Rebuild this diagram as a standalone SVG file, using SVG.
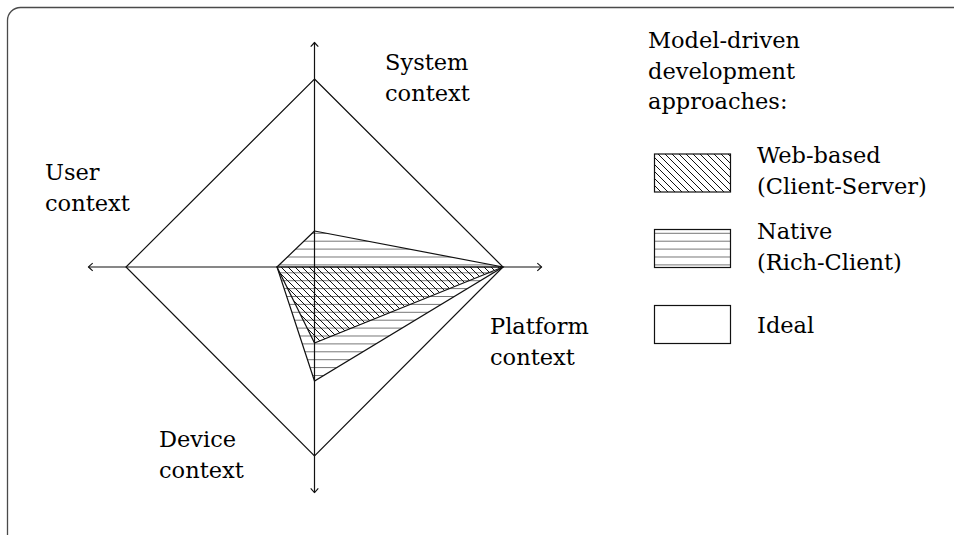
<svg xmlns="http://www.w3.org/2000/svg" width="954" height="535" viewBox="0 0 954 535">
  <style>
    .frame { fill: none; stroke: #4a4a4a; stroke-width: 1.3; }
    .axis { fill: none; stroke: #111; stroke-width: 1.2; marker-end: url(#tip); }
    .edge { fill: none; stroke: #111; stroke-width: 1.2; }
    .swatch { stroke: #111; stroke-width: 1.2; }
    text { font-family: "DejaVu Serif", "Liberation Serif", serif; font-size: 22.5px; fill: #000; }
  </style>
  <defs>
    <!-- horizontal lines fill (Native) -->
    <pattern id="hlines" patternUnits="userSpaceOnUse" x="0" y="3.7" width="20" height="7.9">
      <line x1="0" y1="0" x2="20" y2="0" stroke="#111" stroke-width="1.15"/>
    </pattern>
    <!-- north-west lines fill (Web-based) -->
    <pattern id="nwlines" patternUnits="userSpaceOnUse" x="0" y="0" width="7" height="7">
      <line x1="-1" y1="-1" x2="8" y2="8" stroke="#111" stroke-width="1"/>
      <line x1="-8" y1="-1" x2="1" y2="8" stroke="#111" stroke-width="1"/>
      <line x1="6" y1="-1" x2="15" y2="8" stroke="#111" stroke-width="1"/>
    </pattern>
    <marker id="tip" viewBox="-6 -5 8 10" markerWidth="8" markerHeight="10" refX="0" refY="0" orient="auto" markerUnits="userSpaceOnUse">
      <path d="M-4.2,-3.8 Q-1.2,-1.2 0,0 Q-1.2,1.2 -4.2,3.8" fill="none" stroke="#111" stroke-width="1.1"/>
    </marker>
  </defs>

  <!-- outer frame -->
  <rect class="frame" x="7.5" y="7.5" width="980" height="560" rx="13" ry="13"/>

  <g id="connectors">
    <!-- axes -->
    <line class="axis" x1="314.5" y1="267" x2="314.5" y2="42.5"/>
    <line class="axis" x1="314.5" y1="267" x2="314.5" y2="492.5"/>
    <line class="axis" x1="314.5" y1="267" x2="88.5" y2="267"/>
    <line class="axis" x1="314.5" y1="267" x2="541.5" y2="267"/>
  </g>

  <!-- ideal: full outer diamond -->
  <g id="ideal">
    <polygon class="edge" points="314.5,79 503,267 314.5,456 126,267"/>
  </g>

  <!-- native (rich-client) profile -->
  <g id="native">
    <polygon points="314.5,231 503,267 314.5,381 277,267" fill="url(#hlines)" stroke="#111" stroke-width="1.2"/>
  </g>

  <!-- web-based (client-server) profile -->
  <g id="web-based">
    <polygon points="314.5,267 503,267 314.5,343 277,267" fill="url(#nwlines)" stroke="#111" stroke-width="1.2"/>
  </g>

  <!-- axis labels -->
  <g id="system-context">
    <text x="385" y="70">System</text>
    <text x="385" y="101">context</text>
  </g>
  <g id="user-context">
    <text x="45" y="180">User</text>
    <text x="45" y="211">context</text>
  </g>
  <g id="platform-context">
    <text x="490" y="334">Platform</text>
    <text x="490" y="365">context</text>
  </g>
  <g id="device-context">
    <text x="159" y="447">Device</text>
    <text x="159" y="478">context</text>
  </g>

  <!-- legend -->
  <g id="legend-title">
    <text x="648" y="48">Model-driven</text>
    <text x="648" y="78.5">development</text>
    <text x="648" y="109">approaches:</text>
  </g>
  <g id="legend-web">
    <rect class="swatch" x="654.5" y="154" width="76" height="38" fill="url(#nwlines)"/>
    <text x="757" y="163">Web-based</text>
    <text x="757" y="193.5">(Client-Server)</text>
  </g>
  <g id="legend-native">
    <rect class="swatch" x="654.5" y="229.5" width="76" height="38" fill="url(#hlines)"/>
    <text x="757" y="239">Native</text>
    <text x="757" y="269.5">(Rich-Client)</text>
  </g>
  <g id="legend-ideal">
    <rect class="swatch" x="654.5" y="305.5" width="76" height="38" fill="none"/>
    <text x="757" y="333">Ideal</text>
  </g>
</svg>
